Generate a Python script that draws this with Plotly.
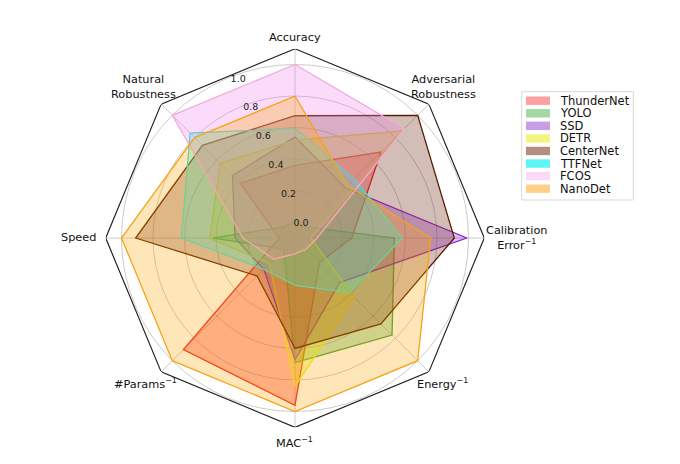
import plotly.graph_objects as go

# ---------------- data ----------------
axes_labels = ["Accuracy", "Adversarial Robustness", "Calibration Error⁻¹", "Energy⁻¹",
               "MAC⁻¹", "#Params⁻¹", "Speed", "Natural Robustness"]

models = ["ThunderNet", "YOLO", "SSD", "DETR", "CenterNet", "TTFNet", "FCOS", "NanoDet"]

thundernet = [0.36, 0.67, 0.26, 0.12, 0.96, 0.90, 0.00, 0.39]
yolo       = [0.00, 0.00, 0.53, 0.77, 0.69, 0.00, 0.42, 0.00]
ssd        = [0.54, 0.35, 0.99, 0.30, 0.67, 0.18, 0.28, 0.46]
detr       = [0.52, 0.86, 0.00, 0.43, 0.84, 0.13, 0.44, 0.57]
centernet  = [0.675, 1.00, 0.91, 0.67, 0.60, 0.24, 0.91, 0.73]
ttfnet     = [0.595, 0.43, 0.58, 0.39, 0.20, 0.18, 0.62, 0.84]
fcos       = [1.00, 0.88, 0.04, 0.00, 0.00, 0.09, 0.23, 1.00]
nanodet    = [0.80, 0.37, 0.76, 1.00, 1.00, 1.00, 1.00, 0.80]

series = [thundernet, yolo, ssd, detr, centernet, ttfnet, fcos, nanodet]

radial_ticks = [0.0, 0.2, 0.4, 0.6, 0.8, 1.0]
radial_range = [-0.1, 1.1]

# ---------------- styles ----------------
line_colors = ["#ec2424", "#3aa03a", "#8a1fd0", "#f0e61e", "#5a1a00", "#3ee0d0", "#f2a9d9", "#f5a31a"]
fill_colors = ["rgba(255,0,0,0.30)", "rgba(44,160,44,0.30)", "rgba(148,30,211,0.30)",
               "rgba(235,240,0,0.30)", "rgba(110,40,15,0.30)", "rgba(0,255,255,0.30)",
               "rgba(238,130,238,0.28)", "rgba(255,165,0,0.28)"]
legend_colors = ["#ff9f9f", "#a3d7a3", "#c99ee6", "#f2f57f", "#b38f80", "#5cf6f6", "#fcd9f7", "#ffd08a"]

# the page body has an 8px margin: figure is placed at (8, 8) in the window
OFF = 8
W, H = 680 - 2 * OFF, 464 - 2 * OFF
CX, CY, R = 295.0, 238.0, 189.3


def px(x):
    return (x - OFF) / W


def py(y):
    return 1 - (y - OFF) / H


theta = axes_labels + [axes_labels[0]]

fig = go.Figure()

for name, vals, lc, fc in zip(models, series, line_colors, fill_colors):
    fig.add_trace(go.Scatterpolar(
        r=vals + [vals[0]], theta=theta, mode="lines", name=name,
        line=dict(color=lc, width=1.3), fill="toself", fillcolor=fc,
        showlegend=False, hoverinfo="skip"))

# outer octagon frame
fig.add_trace(go.Scatterpolar(
    r=[radial_range[1]] * (len(axes_labels) + 1), theta=theta, mode="lines",
    line=dict(color="#222222", width=1.2), showlegend=False, hoverinfo="skip"))

fig.update_layout(
    width=W, height=H,
    margin=dict(l=0, r=0, t=0, b=0, pad=0),
    paper_bgcolor="white",
    font=dict(family="DejaVu Sans", color="#111111"),
    polar=dict(
        domain=dict(x=[px(CX - R), px(CX + R)], y=[py(CY + R), py(CY - R)]),
        bgcolor="rgba(0,0,0,0)",
        gridshape="circular",
        radialaxis=dict(range=radial_range, tickvals=radial_ticks,
                        ticktext=[f"{v:.1f}" for v in radial_ticks],
                        angle=113.5, tickangle=113.5, side="clockwise",
                        showline=False, ticks="", gridcolor="#cccccc", gridwidth=1,
                        tickfont=dict(size=9.5, color="#222222")),
        angularaxis=dict(rotation=90, direction="clockwise", showline=False,
                         showticklabels=False, ticks="", gridcolor="#cccccc",
                         gridwidth=1, categoryarray=axes_labels, categoryorder="array"),
    ),
)

# axis labels
label_pos = [
    ("Accuracy", 295, 37, "center"),
    ("Adversarial<br>Robustness", 444, 86.5, "center"),
    ("Calibration<br>Error<sup>−1</sup>", 516.7, 237.5, "center"),
    ("Energy<sup>−1</sup>", 442, 383, "center"),
    ("MAC<sup>−1</sup>", 294, 442, "center"),
    ("#Params<sup>−1</sup>", 145, 383, "center"),
    ("Speed", 97.7, 237.5, "right"),
    ("Natural<br>Robustness", 143, 86.5, "center"),
]
for text, x, y, anchor in label_pos:
    fig.add_annotation(x=px(x), y=py(y), xref="paper", yref="paper", text=text,
                       showarrow=False, xanchor=anchor, yanchor="middle",
                       font=dict(size=11.3, color="#111111"))

# legend (manual)
fig.add_shape(type="rect", xref="paper", yref="paper",
              x0=px(521.7), x1=px(633.3), y0=py(200), y1=py(91.7),
              line=dict(color="#d9d9d9", width=1), fillcolor="white")
row0, step = 100.7, 12.57
for i, (name, c) in enumerate(zip(models, legend_colors)):
    yc = row0 + i * step
    fig.add_shape(type="rect", xref="paper", yref="paper",
                  x0=px(526), x1=px(550), y0=py(yc + 4.2), y1=py(yc - 4.2),
                  line=dict(width=0), fillcolor=c)
    fig.add_annotation(x=px(559), y=py(yc), xref="paper", yref="paper", text=name,
                       showarrow=False, xanchor="left", yanchor="middle",
                       height=12, borderpad=0,
                       font=dict(size=11.5, color="#111111"))

fig.write_html("out.html")
